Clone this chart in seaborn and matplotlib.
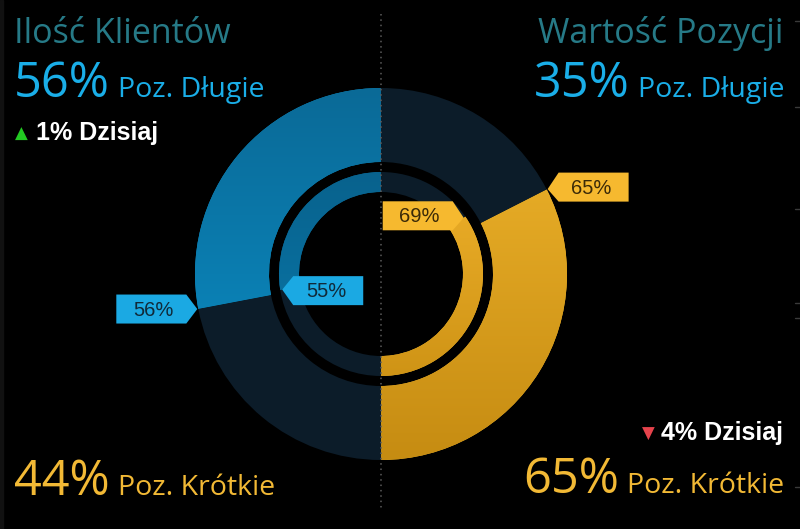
import numpy as np
import matplotlib
matplotlib.use("Agg")
import matplotlib.pyplot as plt
import seaborn as sns
from matplotlib.patches import Polygon
from matplotlib.colors import LinearSegmentedColormap

# ---------------- data ----------------
left_title = "Ilość Klientów"
right_title = "Wartość Pozycji"
long_label = "Poz. Długie"
short_label = "Poz. Krótkie"
clients_outer = [56, 44]      # long %, short %
clients_inner = [55, 45]      # long %, short %
value_outer = [35, 65]        # long %, short %
value_inner = [31, 69]        # long %, short %
clients_change = 1            # % today (up)
value_change = 4              # % today (down)
today_label = "Dzisiaj"

# ---------------- style ----------------
sns.set_style("dark", {"axes.facecolor": "black", "figure.facecolor": "black"})
HEAD_FONT = ["Open Sans", "DejaVu Sans"]
BOLD_FONT = ["Liberation Sans", "DejaVu Sans"]

BG = "#000000"
DARK = "#0c1c29"
BLUE_TOP, BLUE_BOT = "#0a6a97", "#0b90c9"
BLUE_IN_TOP, BLUE_IN_BOT = "#08628d", "#0a78aa"
GOLD_TOP, GOLD_BOT = "#f1b62d", "#c68c12"
TEAL = "#267a87"
TXT_BLUE = "#1aaee8"
TXT_GOLD = "#f2b935"
LBL_BLUE = "#1ba9e3"
LBL_GOLD = "#f6b92f"

W, H = 800, 529
fig = plt.figure(figsize=(W / 100, H / 100), dpi=100, facecolor=BG)
ax = fig.add_axes([0, 0, 1, 1])
ax.set_facecolor(BG)

cx, cy = 381, H - 274
R_OUT, W_OUT = 186, 74
R_IN, W_IN = 102, 20


def half_donut(values, start, radius, width, colors):
    vals = list(values) + [sum(values)]
    wedges, _ = ax.pie(vals, startangle=start, counterclock=True,
                       radius=radius, center=(cx, cy), colors=colors + ["none"],
                       wedgeprops=dict(width=width, linewidth=0, edgecolor="none"),
                       frame=True)
    return wedges


def gradient(wedge, top_col, bot_col, radius):
    cmap = LinearSegmentedColormap.from_list("g", [bot_col, top_col])
    grad = np.linspace(0, 1, 256).reshape(-1, 1)
    im = ax.imshow(grad, cmap=cmap, origin="lower", aspect="auto",
                   extent=(cx - radius, cx + radius, cy - radius, cy + radius),
                   zorder=wedge.get_zorder() + 0.1, interpolation="bilinear")
    im.set_clip_path(wedge)


# left half: long (blue) from top, counter-clockwise
lw_out = half_donut(clients_outer, 90, R_OUT, W_OUT, [BLUE_BOT, DARK])
gradient(lw_out[0], BLUE_TOP, BLUE_BOT, R_OUT)
lw_in = half_donut(clients_inner, 90, R_IN, W_IN, [BLUE_IN_TOP, DARK])
gradient(lw_in[0], BLUE_IN_TOP, BLUE_IN_BOT, R_IN)

# right half: short (gold) from bottom, counter-clockwise
rw_out = half_donut([value_outer[1], value_outer[0]], -90, R_OUT, W_OUT, [GOLD_TOP, DARK])
gradient(rw_out[0], GOLD_TOP, GOLD_BOT, R_OUT)
rw_in = half_donut([value_inner[1], value_inner[0]], -90, R_IN, W_IN, [GOLD_TOP, DARK])
gradient(rw_in[0], "#eeb02a", "#cf9416", R_IN)

ax.set_xlim(0, W)
ax.set_ylim(0, H)
ax.set_aspect("auto")
ax.axis("off")


def callout(angle_deg, radius, text, face, tcol, side, dy=0):
    t = np.deg2rad(angle_deg)
    tx, ty = cx + radius * np.cos(t), cy + radius * np.sin(t)
    a, bw, h = 11, 70, 29
    by = ty + dy
    x1 = tx + side * a
    x2 = x1 + side * bw
    pts = [(tx, ty), (x1, by + h / 2), (x2, by + h / 2), (x2, by - h / 2), (x1, by - h / 2)]
    ax.add_patch(Polygon(pts, closed=True, facecolor=face, edgecolor="none", zorder=10))
    ax.text((x1 + x2) / 2 - side * 2, by - 1, text, ha="center", va="center", color=tcol,
            fontsize=14.5, family=BOLD_FONT, zorder=11)


ang_lo = 90 + clients_outer[0] / 100 * 180
ang_li = 90 + clients_inner[0] / 100 * 180
ang_ro = -90 + value_outer[1] / 100 * 180
ang_ri = -90 + value_inner[1] / 100 * 180
callout(ang_lo, R_OUT + 1, f"{clients_outer[0]}%", LBL_BLUE, "#102a3a", -1)
callout(ang_li, R_IN - 2, f"{clients_inner[0]}%", LBL_BLUE, "#102a3a", +1, dy=-1)
callout(ang_ro, R_OUT + 1, f"{value_outer[1]}%", LBL_GOLD, "#3b2a08", +1, dy=2)
callout(ang_ri, R_IN - 2, f"{value_inner[1]}%", LBL_GOLD, "#3b2a08", -1, dy=2)

# dotted divider
ax.plot([cx, cx], [H - 14, H - 508], color="#5c5c5c", lw=1.1,
        dashes=(1, 2.5), zorder=20, solid_capstyle="round")

fig.canvas.draw()
rend = fig.canvas.get_renderer()


def pair(x, ybase, big, small, color, align, big_fs=35, small_fs=20.5):
    if align == "left":
        t1 = ax.text(x, ybase, big, color=color, fontsize=big_fs, family=HEAD_FONT,
                     ha="left", va="baseline")
        bb = t1.get_window_extent(rend)
        ax.text(bb.x1 + 8, ybase, small, color=color, fontsize=small_fs,
                family=HEAD_FONT, ha="left", va="baseline")
    else:
        t2 = ax.text(x, ybase, small, color=color, fontsize=small_fs, family=HEAD_FONT,
                     ha="right", va="baseline")
        bb = t2.get_window_extent(rend)
        ax.text(bb.x0 - 8, ybase, big, color=color, fontsize=big_fs,
                family=HEAD_FONT, ha="right", va="baseline")


# titles
ax.text(14, H - 43, left_title, color=TEAL, fontsize=24.5, family=HEAD_FONT,
        ha="left", va="baseline")
ax.text(784, H - 43, right_title, color=TEAL, fontsize=24.5, family=HEAD_FONT,
        ha="right", va="baseline")

pair(14, H - 97, f"{clients_outer[0]}%", long_label, TXT_BLUE, "left")
pair(784, H - 97, f"{value_outer[0]}%", long_label, TXT_BLUE, "right")
pair(14, H - 495, f"{clients_outer[1]}%", short_label, TXT_GOLD, "left")
pair(784, H - 493, f"{value_outer[1]}%", short_label, TXT_GOLD, "right")

# today changes
ax.text(15, H - 139, "▲", color="#22c922", fontsize=12, family=["DejaVu Sans"],
        ha="left", va="baseline")
ax.text(36, H - 140, f"{clients_change}% {today_label}", color="white",
        fontsize=18, fontweight="bold", family=BOLD_FONT, ha="left", va="baseline")
t = ax.text(783, H - 440, f"{value_change}% {today_label}", color="white",
            fontsize=18, fontweight="bold", family=BOLD_FONT, ha="right", va="baseline")
bb = t.get_window_extent(rend)
ax.text(bb.x0 - 6, H - 439, "▼", color="#e6434c", fontsize=12, family=["DejaVu Sans"],
        ha="right", va="baseline")

# frame decorations: left edge strip and right-edge ticks
ax.axvspan(0, 3, color="#111111", zorder=0)
for ypx in [21, 107, 209, 303, 318, 487]:
    ax.plot([795, 800], [H - ypx, H - ypx], color="#3a3a3a", lw=1)

fig.savefig("out.png", dpi=100, facecolor=BG)
